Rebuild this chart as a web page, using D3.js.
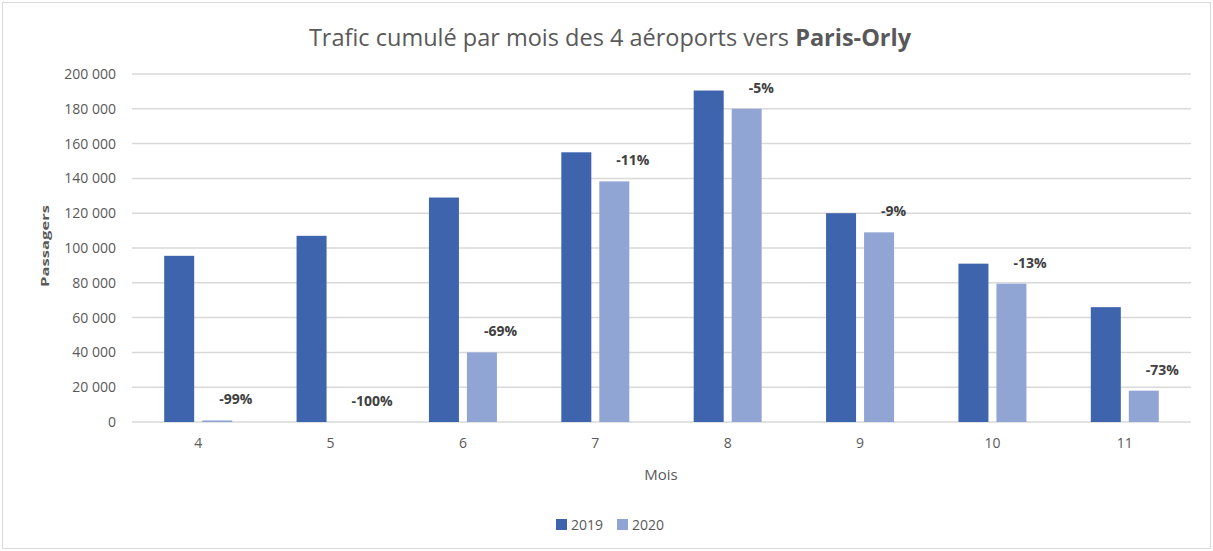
<!DOCTYPE html>
<html>
<head>
<meta charset="utf-8">
<script src="https://cdn.jsdelivr.net/npm/d3@7"></script>
<style>
  body { margin: 0; background: #fff; }
  text { font-family: "Open Sans", "Noto Sans", sans-serif; }
</style>
</head>
<body>
<script>
// months on the x axis
months = ["4", "5", "6", "7", "8", "9", "10", "11"];
years = ["2019", "2020"];
// passengers per month
pax2019 = [95500, 107000, 129000, 155000, 190500, 120000, 91000, 66000];
pax2020 = [900, 0, 40000, 138300, 180000, 109000, 79500, 18000];
// change labels shown above the 2020 bars
changes = ["-99%", "-100%", "-69%", "-11%", "-5%", "-9%", "-13%", "-73%"];
yTicks = [0, 20000, 40000, 60000, 80000, 100000, 120000, 140000, 160000, 180000, 200000];

var colors = { "2019": "#3d64ad", "2020": "#91a5d5" };

var svg = d3.select("body").append("svg")
    .attr("width", 1213)
    .attr("height", 551);

// chart border
svg.append("rect").attr("x", 2.5).attr("y", 2.5)
    .attr("width", 1208).attr("height", 546)
    .attr("fill", "#fff").attr("stroke", "#d9d9d9").attr("stroke-width", 1);

var x0 = d3.scaleBand().domain(months).range([132, 1191]).padding(0);
var x1 = d3.scaleBand().domain(years)
    .range([x0.bandwidth() / 2 - 34, x0.bandwidth() / 2 + 34])
    .paddingInner(8 / 38);
var y = d3.scaleLinear().domain([0, 200000]).range([422, 74]);

var fmt = d3.formatLocale({ decimal: ",", thousands: " ", grouping: [3], currency: ["", "€"] }).format(",d");

// gridlines
svg.append("g").selectAll("line").data(yTicks).enter().append("line")
    .attr("x1", 132).attr("x2", 1191)
    .attr("y1", d => y(d)).attr("y2", d => y(d))
    .attr("stroke", "#d9d9d9").attr("stroke-width", 1.5);

// y axis labels
var yAxis = svg.append("g").attr("transform", "translate(124,0)")
    .call(d3.axisLeft(y).tickValues(yTicks).tickFormat(fmt).tickSize(0).tickPadding(8));
yAxis.select(".domain").remove();
yAxis.selectAll("text").attr("font-size", 14).attr("fill", "#595959")
    .style("font-family", "'Open Sans', sans-serif");

// bars
var rows = months.map((m, i) => ({ month: m, values: [pax2019[i], pax2020[i]], change: changes[i] }));
var groups = svg.append("g").selectAll("g").data(rows).enter().append("g")
    .attr("transform", d => "translate(" + x0(d.month) + ",0)");

groups.selectAll("rect").data(d => d.values.map((v, j) => ({ year: years[j], value: v })))
    .enter().append("rect")
    .attr("x", d => x1(d.year))
    .attr("width", x1.bandwidth())
    .attr("y", d => y(d.value))
    .attr("height", d => y(0) - y(d.value))
    .attr("fill", d => colors[d.year]);

// change labels
groups.append("text")
    .attr("x", x1("2020") + x1.bandwidth() / 2 + 2)
    .attr("y", d => y(d.values[1]) - 16)
    .attr("font-size", 14).attr("font-weight", "bold").attr("fill", "#404040")
    .text(d => d.change);

// x axis labels
var xAxis = svg.append("g").attr("transform", "translate(0,422)")
    .call(d3.axisBottom(x0).tickSize(0).tickPadding(16));
xAxis.select(".domain").remove();
xAxis.selectAll("text").attr("font-size", 14).attr("fill", "#595959")
    .style("font-family", "'Open Sans', sans-serif");

// axis titles
svg.append("text").attr("x", 661).attr("y", 480).attr("text-anchor", "middle")
    .attr("font-size", 15).attr("fill", "#595959").text("Mois");

svg.append("text").attr("transform", "translate(49,246) rotate(-90)")
    .attr("text-anchor", "middle").attr("font-size", 11).attr("font-weight", "bold")
    .attr("fill", "#595959").attr("textLength", 82).attr("lengthAdjust", "spacingAndGlyphs")
    .text("Passagers");

// title
var title = svg.append("text").attr("x", 610).attr("y", 46).attr("text-anchor", "middle")
    .attr("font-size", 23.5).attr("fill", "#595959");
title.append("tspan").text("Trafic cumulé par mois des 4 aéroports vers ");
title.append("tspan").attr("font-weight", "bold").text("Paris-Orly");

// legend
var legend = svg.append("g").selectAll("g").data(years).enter().append("g")
    .attr("transform", (d, i) => "translate(" + (556 + i * 61) + ",519)");
legend.append("rect").attr("width", 11).attr("height", 11).attr("fill", d => colors[d]);
legend.append("text").attr("x", 15).attr("y", 10.5).attr("font-size", 14)
    .attr("fill", "#595959").text(d => d);
</script>
</body>
</html>
